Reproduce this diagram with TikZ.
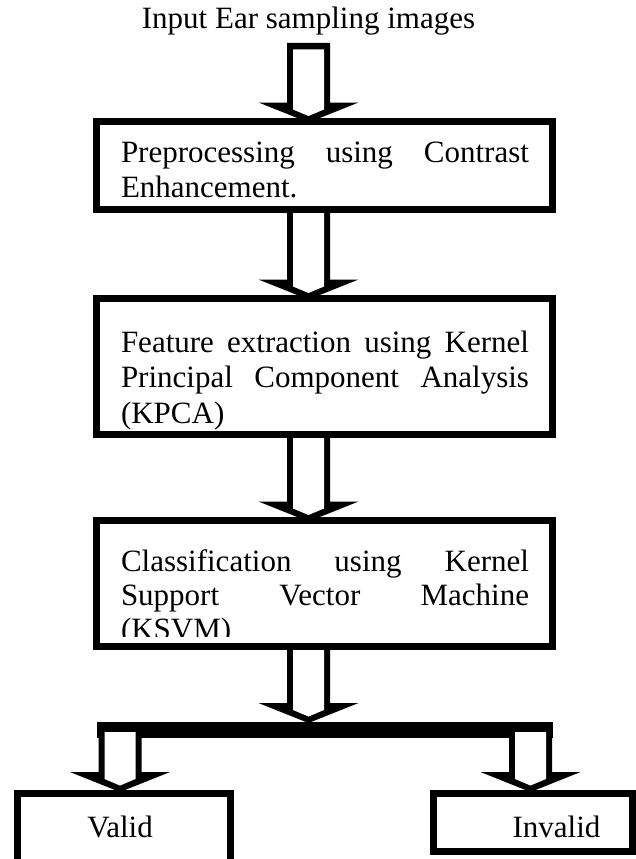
\documentclass[tikz,border=0pt]{standalone}
\usepackage{fontspec}
\setmainfont{Liberation Serif}
\usetikzlibrary{calc}
\newcommand{\jline}[1]{\makebox[408pt][s]{#1}}
\tikzset{
  box/.style={draw=black, line width=7pt, outer sep=0pt, inner sep=0pt},
  txt/.style={inner sep=0pt, outer sep=0pt, font=\fontsize{31}{35.5}\selectfont, align=left},
  pics/barrow/.style n args={2}{code={
    \fill[black] (-21.5,-#1) -- (21.5,-#1) -- (21.5,-19) -- (50,-19) -- (0,1) -- (-50,-19) -- (-21.5,-19) -- cycle;
    \fill[white] (-15.5,-#1+#2) -- (15.5,-#1+#2) -- (15.5,-12) -- (0,-5.5) -- (-15.5,-12) -- cycle;
  }}
}
\begin{document}
\begin{tikzpicture}[x=1pt,y=-1pt]
\clip (0,0) rectangle (636,859);
\fill[white] (0,0) rectangle (636,859);
% title
\node[txt, anchor=base] (title) at (308.5,29) {Input Ear sampling images};
% boxes
\node[box, minimum width=456pt, minimum height=88pt] (b1) at (324.5,165.5) {};
\node[box, minimum width=456pt, minimum height=136pt] (b2) at (324.5,366.5) {};
\node[box, minimum width=456pt, minimum height=126pt] (b3) at (324.5,583.5) {};
\node[box, minimum width=213pt, minimum height=107pt] (valid) at (123.5,846.5) {};
\node[box, minimum width=199pt, minimum height=58pt] (invalid) at (533,822) {};
\node[fill=black, inner sep=0pt, outer sep=0pt, minimum width=456pt, minimum height=16pt] (bar) at (325,730) {};
% texts
\node[txt, anchor=north west] (t1) at (121,141.8) {\jline{Preprocessing using Contrast}\\Enhancement.};
\node[txt, anchor=north west] (t2) at (121,330.8) {\jline{Feature extraction using Kernel}\\\jline{Principal Component Analysis}\\(KPCA)};
\begin{scope}
\clip (100,530) rectangle (550,636);
\node[txt, font=\fontsize{31}{34}\selectfont, anchor=north west] (t3) at (121,549.3) {\jline{Classification using Kernel}\\\jline{Support Vector Machine}\\(KSVM)};
\end{scope}
\node[txt, anchor=base] (vt) at (120,837) {Valid};
\node[txt, anchor=base] (it) at (556.5,837) {Invalid};
% block arrows
\path (b1.north) ++(-16,0) pic {barrow={78.5}{6.5}};
\path (b2.north) ++(-16,0) pic {barrow={89}{3.5}};
\path (b3.north) ++(-16,0) pic {barrow={86}{3.5}};
\path (bar.north) ++(-16.5,0) pic {barrow={75.5}{3.5}};
\path (valid.north) ++(-3.5,-2) pic {barrow={69}{10}};
\path (invalid.north) ++(-2.5,-2) pic {barrow={69}{10}};
\end{tikzpicture}
\end{document}
